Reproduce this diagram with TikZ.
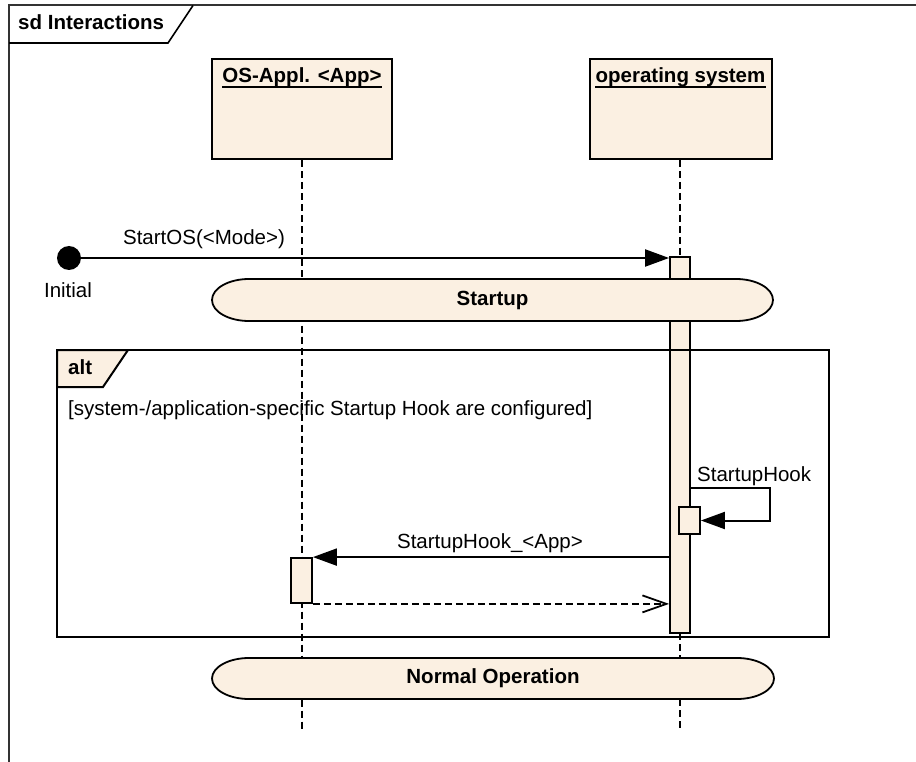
\documentclass[tikz,border=0pt]{standalone}
\usepackage{fontspec}
\setmainfont{Liberation Sans}
\usetikzlibrary{arrows.meta,calc}
\definecolor{umlfill}{RGB}{251,240,226}
\begin{document}
\begin{tikzpicture}[x=1pt,y=1pt,
  txt/.style={inner sep=0pt, font=\fontsize{20.5}{24}\selectfont},
  btxt/.style={inner sep=0pt, font=\fontsize{20.5}{24}\selectfont\bfseries},
  headbox/.style={draw, line width=2pt, fill=umlfill, minimum height=100pt, inner sep=0pt},
  actbar/.style={draw, line width=1.8pt, fill=umlfill, inner sep=0pt},
  lifeline/.style={line width=1.6pt, dash pattern=on 7pt off 4pt},
  msg/.style={line width=2pt, -{Triangle[length=24pt,width=17pt]}},
  reply/.style={line width=1.8pt, dash pattern=on 7pt off 4pt,
    -{Straight Barb[length=24pt,width=17pt,line width=1.8pt]}},
  pill/.style={draw, line width=1.8pt, fill=umlfill},
]
\useasboundingbox (0,0) rectangle (916,-762);

% diagram frame with its name tab
\begin{scope}
  \clip (0,0) rectangle (916,-762);
  \draw[line width=2pt, black!80] (9,-770) -- (9,-5.5) -- (930,-5.5);
\end{scope}
\draw[line width=1.6pt] (193,-5.5) -- (168,-43) -- (9,-43);
\node[btxt, anchor=base west] (sdlabel) at (18,-30) {sd Interactions};

% lifeline heads
\node[headbox, minimum width=180pt] (apphead) at (302,-109.5) {};
\node[btxt, anchor=base] (apptitle) at (302,-83) {OS-Appl. <App>};
\draw[line width=2pt] ([yshift=-4pt]apptitle.base west) -- ([yshift=-4pt]apptitle.base east);

\node[headbox, minimum width=182pt] (oshead) at (680.5,-109) {};
\node[btxt, anchor=base] (ostitle) at (680.5,-83) {operating system};
\draw[line width=2pt] ([yshift=-4pt]ostitle.base west) -- ([yshift=-4pt]ostitle.base east);

% lifelines
\coordinate (applow) at (302,-730);
\coordinate (oslow) at (680,-730);
\draw[lifeline] (apphead.south) -- (applow);
\draw[lifeline] (oshead.south -| oslow) -- (oslow);

% activation bars
\node[actbar, minimum width=20pt, minimum height=376pt] (osbar) at (680,-445) {};
\node[actbar, minimum width=21pt, minimum height=45pt] (appbar) at (301.5,-580.5) {};
\node[actbar, minimum width=21pt, minimum height=27pt] (hookbar) at (689.5,-520.5) {};

% state invariants
\draw[pill] (249,-279) -- (736,-279)
  arc[start angle=90, end angle=-90, x radius=37, y radius=21]
  -- (249,-321)
  arc[start angle=270, end angle=90, x radius=37, y radius=21] -- cycle;
\node[btxt] (startup) at (492.5,-300) {Startup};

\draw[pill] (249,-658) -- (737,-658)
  arc[start angle=90, end angle=-90, x radius=37, y radius=20.5]
  -- (249,-699)
  arc[start angle=270, end angle=90, x radius=37, y radius=20.5] -- cycle;
\node[btxt] (normalop) at (493,-678.5) {Normal Operation};

% alt combined fragment
\draw[line width=2pt, fill=umlfill] (57,-350) -- (128,-350) -- (103,-387) -- (57,-387) -- cycle;
\node[draw, line width=2.4pt, minimum width=772pt, minimum height=287pt, inner sep=0pt]
  (altframe) at (443,-493.5) {};
\node[btxt, anchor=base west] (altlabel) at (68,-374) {alt};
\node[txt, anchor=base west] (guard) at (68,-415)
  {[system-/application-specific Startup Hook are configured]};

% messages
\node[circle, fill=black, minimum size=24pt, inner sep=0pt] (init) at (69,-258) {};
\node[txt, anchor=base] (initlbl) at (68,-298) {Initial};
\draw[msg] (init.east) -- (init.east -| osbar.west);
\node[txt, anchor=base] (startoslbl) at (204,-245) {StartOS(<Mode>)};

\coordinate (loopcorner) at (770,-488);
\draw[msg] (osbar.east |- loopcorner) -- (loopcorner) -- (loopcorner |- hookbar.east) -- (hookbar.east);
\node[txt, anchor=base west] (hooklbl) at (697,-481) {StartupHook};

\draw[msg] (osbar.west |- appbar.north) -- (appbar.north east);
\node[txt, anchor=base] (applbl) at (490,-548) {StartupHook\_<App>};

\draw[reply] (appbar.south east) -- (osbar.west |- appbar.south);
\end{tikzpicture}
\end{document}
